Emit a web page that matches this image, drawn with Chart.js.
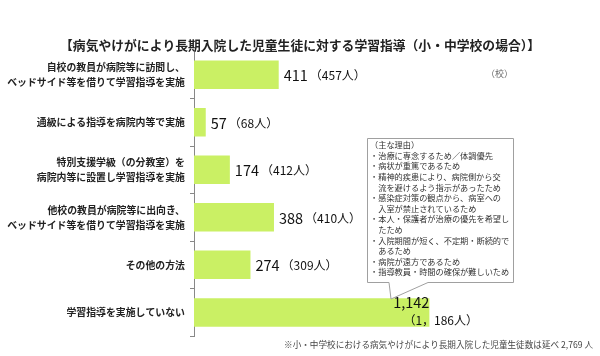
<!DOCTYPE html>
<html>
<head>
<meta charset="utf-8">
<script src="https://cdn.jsdelivr.net/npm/chart.js@4"></script>
<style>
  html, body { margin: 0; padding: 0; background: #fff; }
  #wrap { width: 600px; height: 356px; }
</style>
</head>
<body>
<div id="wrap"><canvas id="chart" width="600" height="356"></canvas></div>
<script>
/* ================= DATA ================= */
const categories = [
    ["自校の教員が病院等に訪問し、", "ベッドサイド等を借りて学習指導を実施"],
    "通級による指導を病院内等で実施",
    ["特別支援学級（の分教室）を", "病院内等に設置し学習指導を実施"],
    ["他校の教員が病院等に出向き、", "ベッドサイド等を借りて学習指導を実施"],
    "その他の方法",
    "学習指導を実施していない"
];
const schoolCounts = [411, 57, 174, 388, 274, 1142];   // 校
const studentCounts = [457, 68, 412, 410, 309, 1186];  // 人

const titleText = "【病気やけがにより長期入院した児童生徒に対する学習指導（小・中学校の場合）】";
const unitText = "（校）";
const noteText = "※小・中学校における病気やけがにより長期入院した児童生徒数は延べ 2,769 人";
const reasonLines = [
    "（主な理由）",
    "・治療に専念するため／体調優先",
    "・病状が重篤であるため",
    "・精神的疾患により、病院側から交",
    "　流を避けるよう指示があったため",
    "・感染症対策の観点から、病室への",
    "　入室が禁止されているため",
    "・本人・保護者が治療の優先を希望し",
    "　たため",
    "・入院期間が短く、不定期・断続的で",
    "　あるため",
    "・病院が遠方であるため",
    "・指導教員・時間の確保が難しいため"
];

const JP = '"Noto Sans CJK JP", "Noto Sans", sans-serif';

/* ================= PLUGINS ================= */
// value labels next to each bar: 校 count + (人 count)
const valueLabels = {
    id: 'valueLabels',
    afterDatasetsDraw(chart) {
        const ctx = chart.ctx;
        const meta = chart.getDatasetMeta(0);
        const last = meta.data.length - 1;
        ctx.save();
        ctx.fillStyle = '#111';
        ctx.textBaseline = 'middle';
        meta.data.forEach((bar, i) => {
            const num = schoolCounts[i].toLocaleString('en-US');
            const ppl = '（' + studentCounts[i].toLocaleString('en-US').replace(',', '，') + '人）';
            if (i === last) {
                // last bar: number sits over the bar end, people below it
                ctx.font = '14.5px ' + JP;
                ctx.textAlign = 'right';
                ctx.fillText(num, bar.x, bar.y - 10);
                ctx.font = '12px ' + JP;
                ctx.textAlign = 'left';
                ctx.fillText(ppl, bar.x - 26, bar.y + 8);
            } else {
                ctx.font = '14.5px ' + JP;
                ctx.textAlign = 'left';
                ctx.fillText(num, bar.x + 5, bar.y + 1);
                const w = ctx.measureText(num).width;
                ctx.font = '12px ' + JP;
                ctx.fillText(ppl, bar.x + 5 + w + 2, bar.y + 1);
            }
        });
        ctx.restore();
    }
};

// title, unit, footnote and the reasons callout
const extras = {
    id: 'extras',
    afterDraw(chart) {
        const ctx = chart.ctx;
        ctx.save();
        ctx.textBaseline = 'middle';

        ctx.fillStyle = '#222';
        ctx.font = 'bold 12.8px ' + JP;
        ctx.textAlign = 'center';
        ctx.fillText(titleText, 300, 45);

        ctx.fillStyle = '#666';
        ctx.font = '9px ' + JP;
        ctx.textAlign = 'left';
        ctx.fillText(unitText, 486, 74);

        ctx.fillStyle = '#444';
        ctx.font = '8.6px ' + JP;
        ctx.textAlign = 'right';
        ctx.fillText(noteText, 593, 345);

        // callout box with tail pointing at the last bar
        const bx = 367.5, by = 138.5, bw = 146, bh = 144;
        ctx.beginPath();
        ctx.moveTo(bx, by);
        ctx.lineTo(bx + bw, by);
        ctx.lineTo(bx + bw, by + bh);
        ctx.lineTo(428, by + bh);
        ctx.lineTo(391, 299);
        ctx.lineTo(389, by + bh);
        ctx.lineTo(bx, by + bh);
        ctx.closePath();
        ctx.fillStyle = '#fff';
        ctx.fill();
        ctx.strokeStyle = '#a0a0a0';
        ctx.lineWidth = 1;
        ctx.stroke();

        ctx.fillStyle = '#333';
        ctx.font = '8.2px ' + JP;
        ctx.textAlign = 'left';
        reasonLines.forEach((line, i) => {
            ctx.fillText(line, 370, 145 + i * 10.6);
        });
        ctx.restore();
    }
};

/* ================= CHART ================= */
new Chart(document.getElementById('chart'), {
    type: 'bar',
    data: {
        labels: categories,
        datasets: [{
            data: schoolCounts,
            backgroundColor: '#caf064',
            borderWidth: 0,
            barPercentage: 0.6,
            categoryPercentage: 1
        }]
    },
    options: {
        indexAxis: 'y',
        responsive: false,
        animation: false,
        layout: { padding: { top: 51, bottom: 18, left: 0, right: 35 } },
        plugins: { legend: { display: false }, tooltip: { enabled: false } },
        scales: {
            x: {
                display: false,
                min: 0,
                max: 1800
            },
            y: {
                afterFit(scale) { scale.width = 194; },
                border: { display: true, color: '#888', width: 1 },
                grid: {
                    drawOnChartArea: false,
                    tickLength: 4,
                    color: ctx => (ctx.index === 0 || ctx.index === categories.length) ? 'rgba(0,0,0,0)' : '#888'
                },
                ticks: {
                    padding: 5,
                    color: '#222',
                    font: { family: JP, size: 9.9, weight: 'bold', lineHeight: 1.5 }
                }
            }
        }
    },
    plugins: [valueLabels, extras]
});
</script>
</body>
</html>
